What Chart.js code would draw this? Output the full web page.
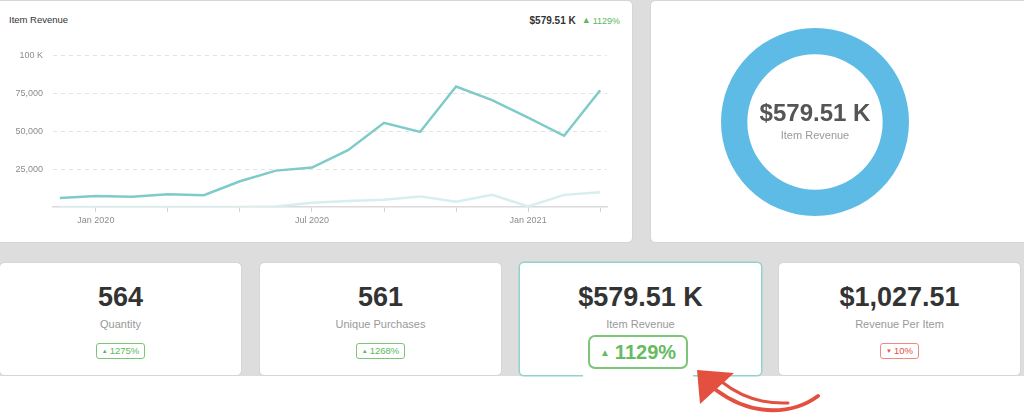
<!DOCTYPE html>
<html>
<head>
<meta charset="utf-8">
<script src="https://cdn.jsdelivr.net/npm/chart.js@4.4.1/dist/chart.umd.min.js"></script>
<style>
body { margin:0; width:1024px; height:418px; background:#fff; font-family:"Liberation Sans", Arial, sans-serif; overflow:hidden; position:relative; }
#band { position:absolute; left:0; top:0; width:1024px; height:376px; background:#dddddd; }
.card { position:absolute; background:#fff; border-radius:4px; box-shadow:0 0 1px rgba(0,0,0,0.3); }
#title { position:absolute; left:9px; top:14px; font-size:9.5px; color:#333; }
#total { position:absolute; right:404px; top:15px; font-size:10px; color:#333; font-weight:bold; white-space:nowrap; }
#total span { font-weight:normal; color:#5cb85c; font-size:9px; margin-left:3px; }
.tri { font-size:6px; vertical-align:1px; margin-right:2px; }
#lineChart { position:absolute; left:0; top:40px; }
#donutChart { position:absolute; left:721px; top:28px; }
#donutText { position:absolute; left:715px; width:200px; top:99px; text-align:center; }
#donutText .v { font-size:24px; font-weight:bold; color:#555; line-height:28px; }
#donutText .l { font-size:11px; color:#999; line-height:14px; margin-top:1px; }
.kpi { text-align:center; top:263px; height:112px; width:241px; }
.kpi .v { position:absolute; left:0; right:0; top:19px; font-size:27px; font-weight:bold; color:#333; line-height:30px; }
.kpi .l { position:absolute; left:0; right:0; top:54px; font-size:11px; color:#999; line-height:14px; }
.kpi .b { position:absolute; left:0; right:0; top:77px; }
.badge { display:inline-block; border:1px solid #7cc576; color:#5cb85c; border-radius:3px; font-size:9.5px; line-height:13px; padding:0 5px; }
.badge.down { border-color:#f08a80; color:#e4503f; }
.big { position:absolute; left:583px; top:331px; width:110px; height:46px; background:#fff; }
.big .badge { position:absolute; left:5px; top:4px; width:100px; height:34px; box-sizing:border-box; border:2px solid #7cc576; border-radius:7px; font-size:20px; font-weight:bold; line-height:30px; padding:0; text-align:center; color:#66bb61; }
.big .tri { font-size:10px; vertical-align:3px; margin-right:5px; }
#arrow { position:absolute; left:0; top:0; }
</style>
</head>
<body>
<div id="band"></div>
<div class="card" style="left:-4px; top:1px; width:636px; height:241px;"></div>
<div class="card" style="left:651px; top:1px; width:380px; height:241px;"></div>
<div id="title">Item Revenue</div>
<div id="total">$579.51 K<span><span class="tri">▲</span>1129%</span></div>
<canvas id="lineChart" width="620" height="195"></canvas>
<canvas id="donutChart" width="188" height="188"></canvas>
<div id="donutText"><div class="v">$579.51 K</div><div class="l">Item Revenue</div></div>
<div id="kpis"></div>
<svg id="arrow" width="1024" height="418">
  <path d="M 818 396 C 795 413, 755 419, 716 390" fill="none" stroke="#e4503f" stroke-width="4" stroke-linecap="round"/>
  <path d="M 788 403 C 765 404, 742 398, 722 382" fill="none" stroke="#e4503f" stroke-width="3" stroke-linecap="round"/>
  <polygon points="697,370 734,373 700,404" fill="#e4503f"/>
</svg>
<script>
const monthLabels = ['Dec 2019', 'Jan 2020', 'Feb 2020', 'Mar 2020', 'Apr 2020', 'May 2020', 'Jun 2020', 'Jul 2020',
    'Aug 2020', 'Sep 2020', 'Oct 2020', 'Nov 2020', 'Dec 2020', 'Jan 2021', 'Feb 2021', 'Mar 2021'];
const revenueCurrent = [6000, 7200, 6800, 8400, 7800, 17000, 24000, 26000, 37500, 55500, 49500, 79500, 70500, 59000, 47000, 77000];
const revenuePrevious = [0, 0, 0, 0, 0, 0, 300, 2800, 3900, 4800, 7000, 3500, 8000, 400, 8000, 9800];
const yTickValues = [0, 25000, 50000, 75000, 100000];
const tickMonths = [1, 3, 5, 7, 9, 11, 13, 15];

const donutValues = [579.51];

const kpiValues = ['564', '561', '$579.51 K', '$1,027.51'];
const kpiLabels = ['Quantity', 'Unique Purchases', 'Item Revenue', 'Revenue Per Item'];
const kpiChanges = ['1275%', '1268%', '1129%', '10%'];
const kpiUp = [true, true, true, false];
const kpiLeft = [0, 260, 520, 779];

// kpi cards
const kpis = document.getElementById('kpis');
for (let i = 0; i < kpiValues.length; i++) {
    const card = document.createElement('div');
    card.className = 'card kpi';
    card.style.left = kpiLeft[i] + 'px';
    if (i == 2) {
        card.style.boxShadow = '0 0 0 1.5px #8fd2d0';
    }
    let html = '<div class="v">' + kpiValues[i] + '</div><div class="l">' + kpiLabels[i] + '</div>';
    if (i != 2) {
        html += '<div class="b"><span class="badge' + (kpiUp[i] ? '' : ' down') + '"><span class="tri">'
            + (kpiUp[i] ? '▲' : '▼') + '</span>' + kpiChanges[i] + '</span></div>';
    }
    card.innerHTML = html;
    kpis.appendChild(card);
}
const big = document.createElement('div');
big.className = 'big';
big.innerHTML = '<div class="badge"><span class="tri">▲</span>' + kpiChanges[2] + '</div>';
kpis.appendChild(big);

const tickFont = { family: '"Liberation Sans", Arial, sans-serif', size: 9 };

new Chart(document.getElementById('lineChart'), {
    type: 'line',
    data: {
        datasets: [
            {
                data: revenueCurrent.map((v, i) => ({ x: i, y: v })),
                borderColor: '#7fcbc9',
                borderWidth: 2.5,
                pointRadius: 0,
                tension: 0
            },
            {
                data: revenuePrevious.map((v, i) => ({ x: i, y: v })),
                borderColor: '#d6efee',
                borderWidth: 2.5,
                pointRadius: 0,
                tension: 0
            }
        ]
    },
    options: {
        responsive: false,
        animation: false,
        layout: { padding: { top: 14, right: 13, left: 0, bottom: 0 } },
        plugins: { legend: { display: false }, tooltip: { enabled: false } },
        scales: {
            x: {
                type: 'linear',
                min: -0.19,
                max: 15.19,
                afterBuildTicks: s => { s.ticks = tickMonths.map(v => ({ value: v })); },
                afterFit: s => { s.height = 28; },
                ticks: {
                    autoSkip: false,
                    maxRotation: 0,
                    padding: 3,
                    color: '#8c8c8c',
                    font: tickFont,
                    callback: v => {
                        const l = monthLabels[v];
                        return /^(Jan|Jul)/.test(l) ? l : '';
                    }
                },
                grid: { drawOnChartArea: false, tickLength: 5, color: '#d2d2d2' },
                border: { color: '#dadada', width: 1.5 }
            },
            y: {
                min: 0,
                max: 100000,
                afterBuildTicks: s => { s.ticks = yTickValues.map(v => ({ value: v })); },
                afterFit: s => { s.width = 53; },
                ticks: {
                    padding: 10,
                    color: '#8c8c8c',
                    font: tickFont,
                    callback: v => v === 0 ? '' : (v >= 100000 ? '100 K' : v.toLocaleString('en-US'))
                },
                grid: {
                    drawTicks: false,
                    color: c => (c.tick && c.tick.value === 0) ? 'rgba(0,0,0,0)' : '#e2e2e2'
                },
                border: { display: false, dash: [4, 4] }
            }
        }
    }
});

new Chart(document.getElementById('donutChart'), {
    type: 'doughnut',
    data: {
        labels: ['Item Revenue'],
        datasets: [{ data: donutValues, backgroundColor: '#5dbbe6', borderWidth: 0 }]
    },
    options: {
        responsive: false,
        animation: false,
        cutout: '72%',
        plugins: { legend: { display: false }, tooltip: { enabled: false } }
    }
});
</script>
</body>
</html>
